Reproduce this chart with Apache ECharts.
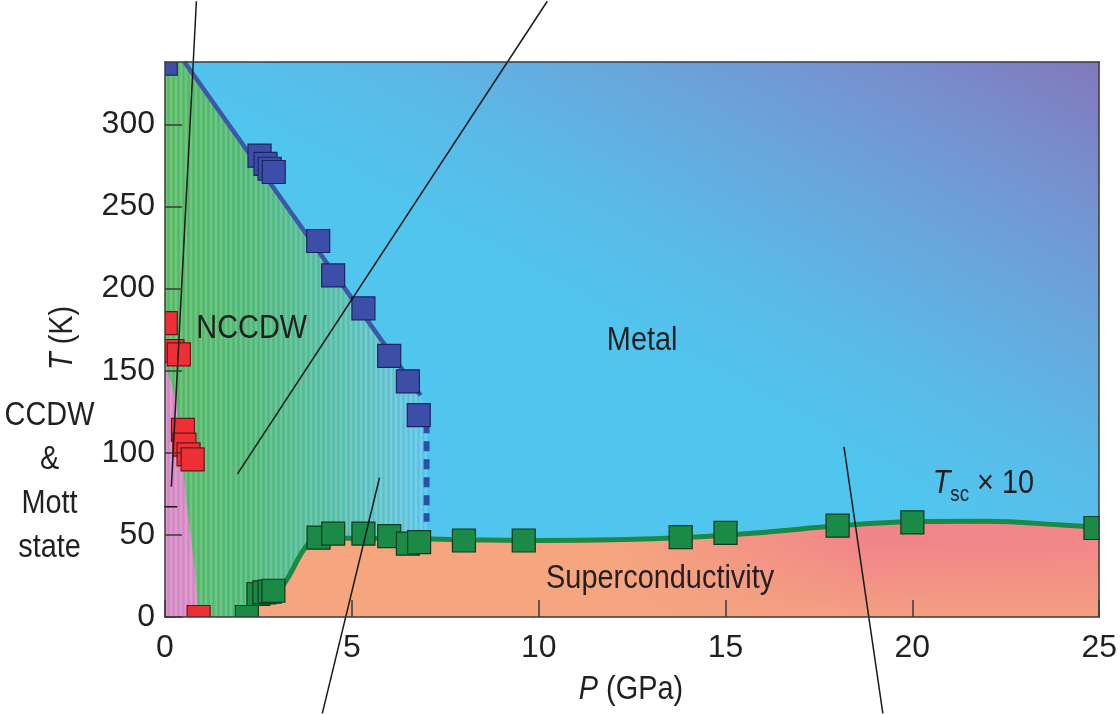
<!DOCTYPE html>
<html><head><meta charset="utf-8">
<script src="https://cdn.jsdelivr.net/npm/echarts@6/dist/echarts.min.js"></script>
<style>html,body{margin:0;background:#fff}#c{width:1120px;height:714px}</style>
</head><body><div id="c"></div>
<script>
// ---- data (P in GPa, T in K) ----
const pTicks = [0, 5, 10, 15, 20, 25];
const tTicks = [0, 50, 100, 150, 200, 250, 300];
// CDW onset (blue squares)
const cdwPts = [[0.02,337],[2.53,281],[2.69,276],[2.80,273],[2.91,271],[4.10,229],[4.50,208],[5.31,188],[6.00,159],[6.50,143.5],[6.79,123]];
const cdwLine = [[0.52,338],[6.84,135]];
const cdwDash = [[7.0,118],[7.0,58]];
// CCDW / Mott transition (red squares)
const mottPts = [[0.02,179],[0.20,162],[0.37,160],[0.48,114],[0.52,105],[0.63,99],[0.74,96],[0.90,0]];
// superconducting Tc x10 (green squares)
const scPts = [[2.19,0],[2.50,14],[2.66,15],[2.80,15.5],[2.90,16],[4.11,48.3],[4.50,50.8],[5.31,50.8],[6.00,49.2],[6.50,44.7],[6.80,45.6],[8.0,46.6],[9.6,46.6],[13.8,48.6],[15.0,51.2],[18.0,55.6],[20.0,57.6],[24.9,54.2]];
const scCurve = [[2.9,16],[3.15,19],[3.85,45],[4.3,48],[6,48],[8,47],[10,46.6],[12,47],[14,48.5],[16,51.5],[18,55.5],[20,58],[22,58.3],[24,56],[25,54.5]];
const scAreaTop = [[2.5,14]].concat(scCurve);
// phase region outlines
const metalRegion = [[0,338],[25,338]];
const ncRegion = [[0,0],[0,338],[0.52,338],[6.84,135],[7.0,118],[7.0,0]];
const mottRegion = [[0,155],[0.08,149],[0.3,132],[0.45,100],[0.57,71],[0.79,31],[0.9,0],[0,0]];
// pointer lines (extend beyond the axes)
const pointers = [
  [[0.84,375],[0.17,79.3]],
  [[10.23,375],[1.94,87.2]],
  [[4.21,-58.7],[5.74,84.8]],
  [[19.21,-58.7],[18.17,103.6]],
  [[-1.94,67.2],[0.33,67.2]]
];
// text labels and where they sit (P, T)
const regionNames = ['NCCDW', 'Metal', 'Superconductivity', 'CCDW\n&\nMott\nstate', '{i|T}{s|sc} × 10'];
const nameAnchors = [[2.32,175.7],[12.77,168.5],[13.25,23.4],[-3.09,82.4],[21.9,81]];
const axisTitles = ['{i|P} (GPa)', '{i|T} (K)'];
const axisTitleAnchors = [[12.47,-44],[-2.74,170]];

// ---- chart ----
const FONT = "'Liberation Sans',Arial,sans-serif";
const TXT = '#231f20';
function stripes(){
  const c=document.createElement('canvas'); c.width=5; c.height=4;
  const g=c.getContext('2d');
  g.fillStyle='rgba(255,255,255,0.13)'; g.fillRect(0,0,2,4);
  g.fillStyle='rgba(0,0,0,0.04)'; g.fillRect(3,0,1,4);
  return {image:c, repeat:'repeat'};
}
const stripeFill = stripes();
function region(pts, fill, z){
  return {type:'custom', coordinateSystem:'cartesian2d', silent:true, z, data: pts,
    renderItem:(params, api)=> params.dataIndex!==0 ? null : ({
      type:'group', children:[
        {type:'polygon', shape:{points: pts.map(p=>api.coord(p))}, style:{fill}},
        {type:'polygon', shape:{points: pts.map(p=>api.coord(p))}, style:{fill: stripeFill}}
      ]})
  };
}
const G = echarts.graphic;
const series = [];
series.push({type:'line', data: metalRegion, symbol:'none', silent:true, z:1, lineStyle:{width:0},
  areaStyle:{opacity:1, color: new G.LinearGradient(0.752,0.757,1,0,[
    {offset:0,color:'#50c6ef'},{offset:0.25,color:'#5abae7'},{offset:0.5,color:'#68a7dc'},
    {offset:0.75,color:'#7691cf'},{offset:1,color:'#8278bd'}])}});
series.push(region(ncRegion, new G.LinearGradient(0,0,1,0,[
  {offset:0,color:'#5cbc68'},{offset:0.33,color:'#53bc7c'},{offset:0.6,color:'#58c0a4'},
  {offset:0.88,color:'#63c6d6'},{offset:1,color:'#5cc8ea'}]), 2));
series.push(region(mottRegion, '#d88cc8', 3));
const scArea = (fill, z)=>({type:'line', data: scAreaTop, symbol:'none', smooth:0.4, silent:true, z, lineStyle:{width:0},
  areaStyle:{opacity:1, color: fill}});
series.push(scArea('#f5a67f', 3));
series.push(scArea(new G.LinearGradient(0,0,1,0,[
  {offset:0,color:'rgba(240,128,140,0)'},{offset:0.42,color:'rgba(240,128,140,0)'},
  {offset:0.72,color:'rgba(240,128,140,0.85)'},{offset:1,color:'rgba(240,128,140,0.8)'}]), 3));
series.push(scArea(new G.LinearGradient(0,0,0,1,[
  {offset:0,color:'rgba(245,166,127,0)'},{offset:0.25,color:'rgba(245,166,127,0)'},
  {offset:1,color:'rgba(245,166,127,0.8)'}]), 3));
series.push({type:'line', data: cdwLine, symbol:'none', silent:true, z:4, lineStyle:{color:'#3d58a6', width:4.5}});
series.push({type:'line', data: cdwDash, symbol:'none', silent:true, z:4, lineStyle:{color:'#2f4fa3', width:6, type:[10,8]}});
series.push({type:'line', data: scCurve, symbol:'none', smooth:0.4, silent:true, z:4, lineStyle:{color:'#1a8a48', width:5}});
pointers.forEach(seg=>series.push({type:'line', data: seg, symbol:'none', silent:true, clip:false, z:6,
  lineStyle:{color:'#1a1a1a', width:1.5}}));
const sq = (data, fill, border)=>({type:'custom', coordinateSystem:'cartesian2d', clip:true, z:5, silent:true, data,
  renderItem:(params, api)=>{
    const c = api.coord([api.value(0), api.value(1)]);
    return {type:'rect', shape:{x:c[0]-11.5, y:c[1]-11.5, width:23, height:23},
      style:{fill, stroke:border, lineWidth:1.2}};
  }});
series.push(sq(cdwPts, '#3d4ea8', '#1b2460'));
series.push(sq(mottPts, '#ee2f36', '#6b1418'));
series.push(sq(scPts, '#1b8a47', '#0d3a1d'));
const RICH = {i:{fontStyle:'italic', fontSize:34, fontFamily:FONT, fill:TXT, lineHeight:44},
              s:{fontSize:22, fontFamily:FONT, fill:TXT, verticalAlign:'bottom', lineHeight:22}};
series.push({type:'custom', coordinateSystem:'cartesian2d', clip:false, z:7, silent:true, data: nameAnchors,
  renderItem:(params, api)=>{
    const c = api.coord([api.value(0), api.value(1)]);
    return {type:'text', x:c[0], y:c[1], scaleX:0.85,
      style:{text: regionNames[params.dataIndex], fill:TXT, fontSize:34, fontFamily:FONT, lineHeight:44,
        align:'center', verticalAlign:'middle', rich:RICH}};
  }});
series.push({type:'custom', coordinateSystem:'cartesian2d', clip:false, z:7, silent:true, data: axisTitleAnchors,
  renderItem:(params, api)=>{
    const c = api.coord([api.value(0), api.value(1)]);
    const r = params.dataIndex===1;
    return {type:'text', x:c[0], y:c[1], scaleX:0.85, rotation: r ? Math.PI/2 : 0,
      style:{text: axisTitles[params.dataIndex], fill:TXT, fontSize:34, fontFamily:FONT,
        align:'center', verticalAlign:'middle', rich:{i:{fontStyle:'italic', fontSize:34, fontFamily:FONT, fill:TXT}}}};
  }});

const axisLine = {show:true, onZero:false, lineStyle:{color:'#3a3a3a', width:1.5}};
const tick = vals=>({show:true, inside:true, length:17, customValues:vals, lineStyle:{color:'#3a3a3a', width:1.5}});
const chart = echarts.init(document.getElementById('c'), null, {renderer:'canvas'});
chart.setOption({
  animation:false,
  grid:{left:165, right:19, top:62, bottom:97},
  xAxis:[{type:'value', min:0, max:25, interval:5, position:'bottom', z:10, axisLine, axisTick:tick(pTicks), splitLine:{show:false},
    axisLabel:{color:TXT, fontSize:32, fontFamily:FONT, margin:15, customValues:pTicks}},
    {type:'value', min:0, max:25, position:'top', z:10, axisLine, axisTick:{show:false}, axisLabel:{show:false}, splitLine:{show:false}}],
  yAxis:[{type:'value', min:0, max:338, interval:50, position:'left', z:10, axisLine, axisTick:tick(tTicks), splitLine:{show:false},
    axisLabel:{color:TXT, fontSize:32, fontFamily:FONT, margin:10, customValues:tTicks}},
    {type:'value', min:0, max:338, position:'right', z:10, axisLine, axisTick:{show:false}, axisLabel:{show:false}, splitLine:{show:false}}],
  series
});
</script></body></html>
